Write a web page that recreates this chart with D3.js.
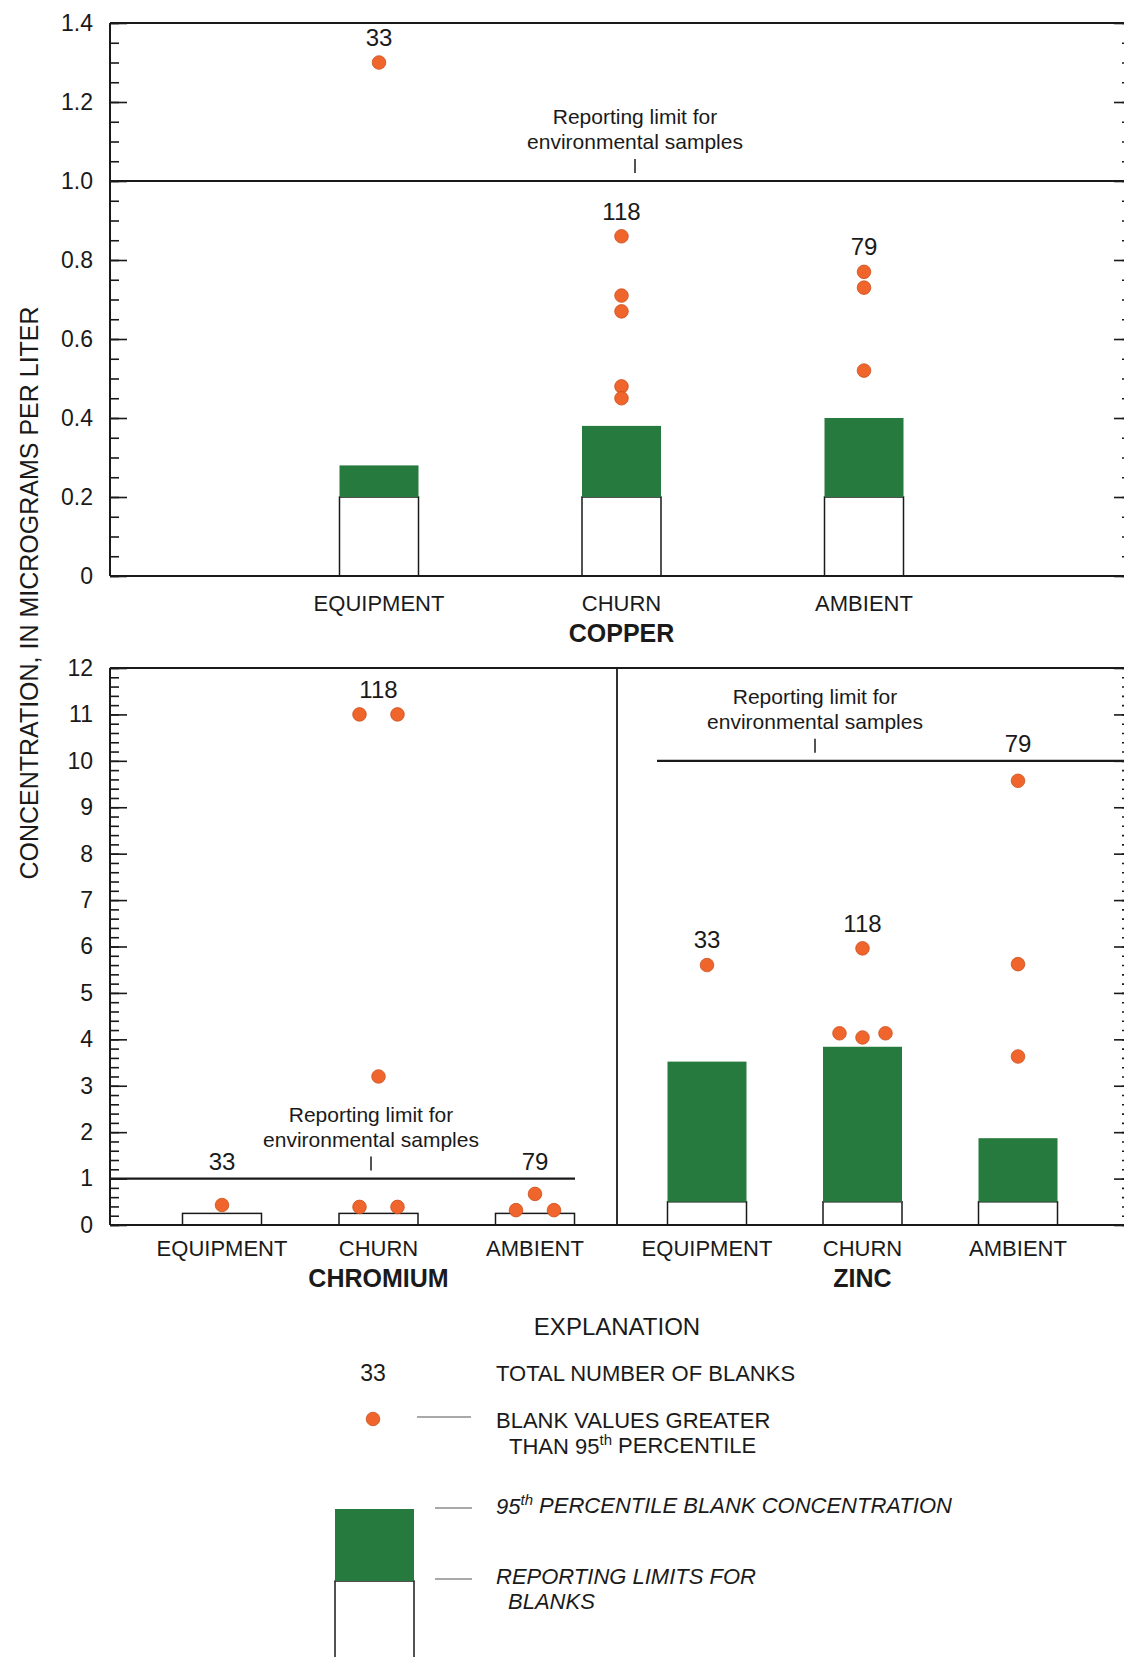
<!DOCTYPE html>
<html>
<head>
<meta charset="utf-8">
<script src="https://cdn.jsdelivr.net/npm/d3@7"></script>
<style>
  body { margin: 0; background: #fff; }
  svg { display: block; font-family: "Liberation Sans", Arial, Helvetica, sans-serif; }
</style>
</head>
<body>
<svg id="chart" width="1124" height="1657"></svg>
<script>
// ---- data ----
const categories = ["EQUIPMENT", "CHURN", "AMBIENT"];

const copperCounts = [33, 118, 79];
const copperReportLimit = [0.2, 0.2, 0.2];
const copperP95 = [0.28, 0.38, 0.40];
const copperDots = [[1.30], [0.86, 0.71, 0.67, 0.48, 0.45], [0.77, 0.73, 0.52]];
const copperEnvLimit = 1.0;
const copperTicks = [0, 0.2, 0.4, 0.6, 0.8, 1.0, 1.2, 1.4];

const chromiumCounts = [33, 118, 79];
const chromiumReportLimit = [0.25, 0.25, 0.25];
const chromiumP95 = [0.25, 0.25, 0.25];
const chromiumDots = [[0.43], [11.0, 11.0, 3.2, 0.39, 0.39], [0.67, 0.32, 0.32]];
const chromiumEnvLimit = 1.0;

const zincCounts = [33, 118, 79];
const zincReportLimit = [0.5, 0.5, 0.5];
const zincP95 = [3.52, 3.84, 1.87];
const zincDots = [[5.6], [5.96, 4.13, 4.04, 4.13], [9.57, 5.62, 3.63]];
const zincEnvLimit = 10;

const lowerTicks = [0, 1, 2, 3, 4, 5, 6, 7, 8, 9, 10, 11, 12];

// ---- styles ----
const green = "#277a3d";
const orange = "#f0652b";
const ink = "#1a1a1a";
const barW = 79;

const svg = d3.select("#chart");

// frame geometry
const left = 110, right = 1130, divider = 617;
const yCopper = d3.scaleLinear().domain([0, 1.4]).range([576, 23]);
const yLower = d3.scaleLinear().domain([0, 12]).range([1225, 668]);

function minorValues(max, step) {
  const n = Math.round(max / step);
  return d3.range(n + 1).map(i => +(i * step).toFixed(3));
}

function drawAxis(y, ticks, minorStep, fmt) {
  const max = ticks[ticks.length - 1];
  const minor = minorValues(max, minorStep);
  // left, labelled
  svg.append("g").attr("transform", `translate(${left},0)`)
    .call(d3.axisLeft(y).tickValues(minor).tickSize(-9).tickFormat(""))
    .call(g => g.select(".domain").remove());
  svg.append("g").attr("transform", `translate(${left},0)`)
    .call(d3.axisLeft(y).tickValues(ticks).tickSize(-17).tickPadding(17).tickFormat(fmt))
    .call(g => g.select(".domain").remove())
    .call(g => g.selectAll("text").attr("font-size", 23).attr("fill", ink)
      .attr("font-family", "Liberation Sans, Arial, sans-serif"));
  // right, ticks only
  svg.append("g").attr("transform", `translate(${right},0)`)
    .call(d3.axisRight(y).tickValues(minor).tickSize(-8).tickFormat(""))
    .call(g => g.select(".domain").remove());
  svg.append("g").attr("transform", `translate(${right},0)`)
    .call(d3.axisRight(y).tickValues(ticks).tickSize(-16).tickFormat(""))
    .call(g => g.select(".domain").remove());
  svg.selectAll(".tick line").attr("stroke", ink).attr("stroke-width", 1.6);
}

function line(x1, y1, x2, y2, w) {
  svg.append("line").attr("x1", x1).attr("y1", y1).attr("x2", x2).attr("y2", y2)
    .attr("stroke", ink).attr("stroke-width", w || 2);
}

// spread dots whose values nearly coincide on the page
function placeDots(values, y) {
  const out = values.map(v => ({ v, py: y(v), dx: 0 }));
  const used = new Set();
  out.forEach((d, i) => {
    if (used.has(i)) return;
    const cluster = [i];
    out.forEach((e, j) => { if (j > i && !used.has(j) && Math.abs(e.py - d.py) < 8) cluster.push(j); });
    cluster.forEach(k => used.add(k));
    const n = cluster.length;
    const gap = n === 2 ? 38 : 23;
    cluster.forEach((k, idx) => { out[k].dx = (idx - (n - 1) / 2) * gap; });
  });
  return out;
}

function drawPanel(p) {
  const x = d3.scalePoint().domain(categories).range(p.catRange);
  const y = p.y;
  const g = svg.append("g");

  categories.forEach((c, i) => {
    const cx = x(c);
    // reporting limit for blanks (white box)
    g.append("rect").attr("x", cx - barW / 2).attr("width", barW)
      .attr("y", y(p.rl[i])).attr("height", y(0) - y(p.rl[i]))
      .attr("fill", "#fff").attr("stroke", ink).attr("stroke-width", 1.5);
    // 95th percentile (green)
    if (p.p95[i] > p.rl[i]) {
      g.append("rect").attr("x", cx - barW / 2).attr("width", barW)
        .attr("y", y(p.p95[i])).attr("height", y(p.rl[i]) - y(p.p95[i]))
        .attr("fill", green);
    }
  });

  // environmental reporting limit line + annotation
  const ey = y(p.env);
  line(p.envSpan[0], ey, p.envSpan[1], ey, 2.2);
  line(p.annotX, ey - 22, p.annotX, ey - 8, 1.5);
  g.append("text").attr("x", p.annotX).attr("y", ey - 64).attr("dy", "0.35em")
    .attr("text-anchor", "middle").attr("font-size", 21).attr("fill", ink)
    .text("Reporting limit for");
  g.append("text").attr("x", p.annotX).attr("y", ey - 39).attr("dy", "0.35em")
    .attr("text-anchor", "middle").attr("font-size", 21).attr("fill", ink)
    .text("environmental samples");

  categories.forEach((c, i) => {
    const cx = x(c);
    const dots = placeDots(p.dots[i], y);
    g.selectAll(null).data(dots).enter().append("circle")
      .attr("cx", d => cx + d.dx).attr("cy", d => d.py).attr("r", 6.8)
      .attr("fill", orange).attr("stroke", "#c9501f").attr("stroke-width", 0.8);
    // count label
    const top = d3.max(p.dots[i]);
    let ly = y(top) - 25;
    if (top < p.env && y(top) - ey < 50) ly = ey - 17;
    g.append("text").attr("x", cx).attr("y", ly).attr("dy", "0.35em")
      .attr("text-anchor", "middle").attr("font-size", 24).attr("fill", ink)
      .text(p.counts[i]);
    // category label
    g.append("text").attr("x", cx).attr("y", p.catY).attr("dy", "0.35em")
      .attr("text-anchor", "middle").attr("font-size", 22).attr("fill", ink)
      .text(c);
  });

  g.append("text").attr("x", x("CHURN")).attr("y", p.catY + 30).attr("dy", "0.35em")
    .attr("text-anchor", "middle").attr("font-size", 25).attr("font-weight", "bold")
    .attr("fill", ink).text(p.name);
}

// axes
drawAxis(yCopper, copperTicks, 0.05, d => d === 0 ? "0" : d3.format(".1f")(d));
drawAxis(yLower, lowerTicks, 0.2, d3.format("d"));

// panels
drawPanel({ name: "COPPER", y: yCopper, counts: copperCounts, rl: copperReportLimit, p95: copperP95,
  dots: copperDots, env: copperEnvLimit, envSpan: [left, right], annotX: 635,
  catRange: [379, 864], catY: 603 });
drawPanel({ name: "CHROMIUM", y: yLower, counts: chromiumCounts, rl: chromiumReportLimit, p95: chromiumP95,
  dots: chromiumDots, env: chromiumEnvLimit, envSpan: [left, 575], annotX: 371,
  catRange: [222, 535], catY: 1248 });
drawPanel({ name: "ZINC", y: yLower, counts: zincCounts, rl: zincReportLimit, p95: zincP95,
  dots: zincDots, env: zincEnvLimit, envSpan: [657, right], annotX: 815,
  catRange: [707, 1018], catY: 1248 });

// frames
line(left, yCopper.range()[1], right, yCopper.range()[1]);
line(left, yCopper.range()[0], right, yCopper.range()[0]);
line(left, yCopper.range()[1], left, yCopper.range()[0]);
line(right, yCopper.range()[1], right, yCopper.range()[0]);
line(left, yLower.range()[1], right, yLower.range()[1]);
line(left, yLower.range()[0], right, yLower.range()[0]);
line(left, yLower.range()[1], left, yLower.range()[0]);
line(right, yLower.range()[1], right, yLower.range()[0]);
line(divider, yLower.range()[1], divider, yLower.range()[0], 1.8);

// y title
svg.append("text").attr("transform", "translate(29,593) rotate(-90)").attr("dy", "0.35em")
  .attr("text-anchor", "middle").attr("font-size", 25).attr("fill", ink)
  .text("CONCENTRATION, IN MICROGRAMS PER LITER");

// ---- explanation ----
const lg = svg.append("g").attr("fill", ink);
lg.append("text").attr("x", 617).attr("y", 1327).attr("dy", "0.35em").attr("text-anchor", "middle")
  .attr("font-size", 24).text("EXPLANATION");
lg.append("text").attr("x", 373).attr("y", 1373).attr("dy", "0.35em").attr("text-anchor", "middle")
  .attr("font-size", 23).text(copperCounts[0]);
lg.append("text").attr("x", 496).attr("y", 1373).attr("dy", "0.35em").attr("font-size", 22)
  .text("TOTAL NUMBER OF BLANKS");

lg.append("circle").attr("cx", 373).attr("cy", 1419).attr("r", 6.8)
  .attr("fill", orange).attr("stroke", "#c9501f").attr("stroke-width", 0.8);
function leader(x1, x2, yy) {
  lg.append("line").attr("x1", x1).attr("x2", x2).attr("y1", yy).attr("y2", yy)
    .attr("stroke", "#555").attr("stroke-width", 1.1);
}
leader(417, 471, 1417);
lg.append("text").attr("x", 496).attr("y", 1420).attr("dy", "0.35em").attr("font-size", 22)
  .text("BLANK VALUES GREATER");
const t2 = lg.append("text").attr("x", 509).attr("y", 1446).attr("dy", "0.35em").attr("font-size", 22);
t2.append("tspan").text("THAN 95");
t2.append("tspan").attr("font-size", 15).attr("dy", "-0.55em").text("th");
t2.append("tspan").attr("dy", "0.35em").text(" PERCENTILE");

// legend bar
lg.append("rect").attr("x", 335).attr("y", 1581).attr("width", barW).attr("height", 90)
  .attr("fill", "#fff").attr("stroke", ink).attr("stroke-width", 1.5);
lg.append("rect").attr("x", 335).attr("y", 1509).attr("width", barW).attr("height", 72)
  .attr("fill", green);
leader(435, 472, 1508);
const t3 = lg.append("text").attr("x", 496).attr("y", 1506).attr("dy", "0.35em")
  .attr("font-size", 22).attr("font-style", "italic");
t3.append("tspan").text("95");
t3.append("tspan").attr("font-size", 15).attr("dy", "-0.55em").text("th");
t3.append("tspan").attr("dy", "0.35em").text(" PERCENTILE BLANK CONCENTRATION");
leader(435, 472, 1579);
lg.append("text").attr("x", 496).attr("y", 1576).attr("dy", "0.35em").attr("font-size", 22)
  .attr("font-style", "italic").text("REPORTING LIMITS FOR");
lg.append("text").attr("x", 508).attr("y", 1601).attr("dy", "0.35em").attr("font-size", 22)
  .attr("font-style", "italic").text("BLANKS");
</script>
</body>
</html>
